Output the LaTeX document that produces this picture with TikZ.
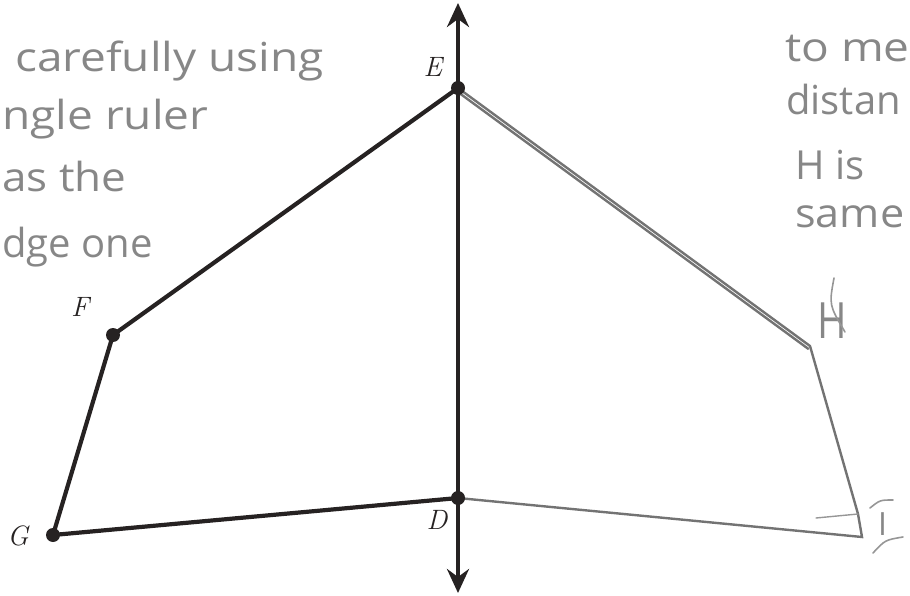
\documentclass[tikz,border=0pt]{standalone}
\usepackage{fontspec}
\newfontfamily\hand{Open Sans}
\usetikzlibrary{arrows.meta}
\definecolor{pencil}{RGB}{115,115,115}
\definecolor{htext}{RGB}{135,135,135}
\definecolor{faint}{RGB}{150,150,150}
\definecolor{ink}{RGB}{38,34,34}
\begin{document}
\begin{tikzpicture}[x=1pt,y=-1pt,
  hw/.style={font=\hand\fontsize{40}{40}\selectfont, text=htext, inner sep=0pt},
  dotpt/.style={circle, fill=ink, inner sep=0pt, minimum size=14pt},
  lbl/.style={font=\fontsize{28}{28}\selectfont\itshape, text=ink, inner sep=0pt},
  edge/.style={line width=4.2pt, draw=ink, line cap=round},
  pen/.style={line width=2.4pt, draw=pencil, line cap=round},
  arc/.style={line width=1.6pt, draw=faint, line cap=round}]
\useasboundingbox (0,0) rectangle (910,596);
% points
\coordinate (E) at (458,88);
\coordinate (D) at (458,498);
\coordinate (F) at (113,335);
\coordinate (G) at (53,535);
\coordinate (H) at (810,346);
\coordinate (I) at (858,514);
\coordinate (Ib) at (862,537);
\coordinate (Ia) at (816,518);
\coordinate (top) at (458,3);
\coordinate (bot) at (458,593);
% handwriting
\node[hw, anchor=base west] (t1) at (15,72) {\scalebox{1.15}[1]{carefully using}};
\node[hw, anchor=base west] (t2) at (2,130) {\scalebox{1.15}[1]{ngle ruler}};
\node[hw, anchor=base west] (t3) at (2,192) {\scalebox{1.1}[1]{as the}};
\node[hw, anchor=base west] (t4) at (2,257) {\scalebox{1.0}[1]{dge one}};
\node[hw, anchor=base west] (r1) at (785,62) {\scalebox{1.15}[1]{to me}};
\node[hw, anchor=base west] (r2) at (786,115) {distan};
\node[hw, anchor=base west] (r3) at (795,180) {H is};
\node[hw, anchor=base west] (r4) at (795,228) {\scalebox{1.08}[1]{same}};
% reflected figure (pencil)
\draw[pen] (E) -- (H);
\draw[pen] ([xshift=-1.8pt,yshift=-2.8pt]E) -- ([xshift=-1.8pt,yshift=-2.8pt]H);
\draw[pen] (H) -- (I) -- (Ib) -- (D);
\draw[pen, draw=faint, line width=1.4pt] (Ia) -- (I);
\node[hw, font=\hand\fontsize{50}{50}\selectfont, anchor=base west] (Hl) at (817,338) {\scalebox{0.8}[1]{H}};
\node[hw, font=\hand\fontsize{32}{32}\selectfont, anchor=base west] (Il) at (878,535) {I};
\draw[arc] (834,278) .. controls (829,305) .. (845,332);
\draw[arc] (870,508) .. controls (880,500) .. (893,500);
\draw[arc] (873,553) .. controls (885,540) .. (903,537);
% original figure
\draw[edge, {Stealth[length=24pt,width=22pt,inset=8pt]}-{Stealth[length=24pt,width=22pt,inset=8pt]}] (bot) -- (top);
\draw[edge, line join=round] (E) -- (F) -- (G) -- (D);
\node[dotpt] (Ed) at (E) {};
\node[dotpt] (Dd) at (D) {};
\node[dotpt] (Fd) at (F) {};
\node[dotpt] (Gd) at (G) {};
\node[lbl] (El) at (433,67) {E};
\node[lbl] (Dl) at (437,520) {D};
\node[lbl] (Fl) at (80,307) {F};
\node[lbl] (Gl) at (18,536) {G};
\end{tikzpicture}
\end{document}
